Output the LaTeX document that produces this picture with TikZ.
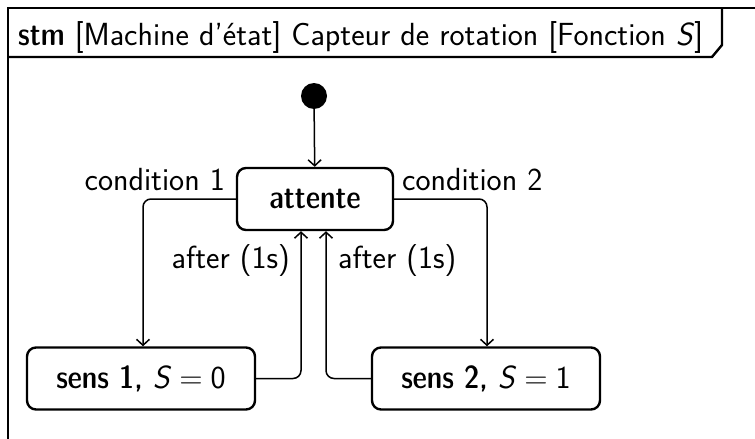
\documentclass[tikz,border=0pt]{standalone}
\usepackage{fontspec}
\usetikzlibrary{arrows.meta}
\newfontface\dcfont{lmsansdemicond10-regular.otf}
\begin{document}
\begin{tikzpicture}[x=1pt,y=-1pt,
  font=\sffamily\fontsize{32}{38}\selectfont,
  frameline/.style={line width=2.4pt, line join=miter},
  statebox/.style={draw, line width=2.4pt, rounded corners=9pt, minimum height=62pt, inner sep=0pt, align=center},
  conn/.style={line width=1.5pt, rounded corners=8pt, -{Straight Barb[length=6pt,width=13pt,line width=1.5pt]}},
  lbl/.style={inner sep=0pt}]
\useasboundingbox (0,0) rectangle (755,439);
% frame
\draw[frameline] (8,445) -- (8,8) -- (760,8);
\draw[frameline] (722,8) -- (722,45) -- (712,57) -- (8,57);
\node[lbl, anchor=base west] (title) at (18,45) {{\dcfont stm} [Machine d’état] Capteur de rotation [Fonction \textit{S}]};
% initial
\node[circle, fill=black, minimum size=26pt, inner sep=0pt] (init) at (314,96) {};
% states
\node[statebox, minimum width=156pt] (att) at (315,199) {\dcfont attente};
\node[statebox, minimum width=228pt] (s1) at (141,378.5) {{\dcfont sens 1,} \textit{S}\hspace{0.25em}=\hspace{0.25em}0};
\node[statebox, minimum width=228pt] (s2) at (486,378.5) {{\dcfont sens 2,} \textit{S}\hspace{0.25em}=\hspace{0.25em}1};
% connectors
\draw[conn] (init) -- (att);
\draw[conn] (att.west) -- (143,199) -- (s1.north -| 143,0);
\draw[conn] (att.east) -- (487,199) -- (s2.north -| 487,0);
\draw[conn] (s1.east) -- (301,378.5) -- (att.south -| 301,0);
\draw[conn] (s2.west) -- (326,378.5) -- (att.south -| 326,0);
% labels
\node[lbl, anchor=base east] (c1) at (225,190) {condition 1};
\node[lbl, anchor=base west] (c2) at (402,190) {condition 2};
\node[lbl, anchor=base east] (a1) at (290,268) {after (1s)};
\node[lbl, anchor=base west] (a2) at (338,268) {after (1s)};
\end{tikzpicture}
\end{document}
